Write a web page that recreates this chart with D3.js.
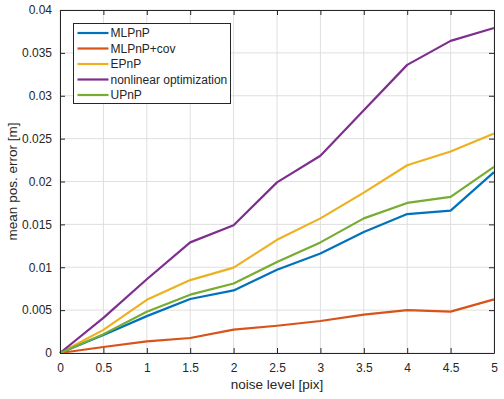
<!DOCTYPE html>
<html>
<head>
<meta charset="utf-8">
<script src="https://cdn.jsdelivr.net/npm/d3@7"></script>
<style>
  body { margin: 0; background: #fff; }
  svg text { font-family: "Liberation Sans", Arial, Helvetica, sans-serif; fill: #262626; }
</style>
</head>
<body>
<svg id="chart" width="504" height="399"></svg>
<script>
const noiseLevels = [0, 0.5, 1, 1.5, 2, 2.5, 3, 3.5, 4, 4.5, 5];
const seriesNames = ['MLPnP', 'MLPnP+cov', 'EPnP', 'nonlinear optimization', 'UPnP'];
const mlpnp = [0, 0.0021, 0.0043, 0.0063, 0.0073, 0.0097, 0.0116, 0.0141, 0.0162, 0.0166, 0.0211];
const mlpnpCov = [0, 0.0007, 0.00136, 0.00175, 0.00272, 0.00318, 0.00373, 0.00447, 0.00501, 0.00482, 0.00626];
const epnp = [0, 0.0027, 0.0062, 0.0085, 0.00995, 0.0132, 0.0157, 0.0187, 0.0219, 0.0235, 0.0256];
const nonlinear = [0, 0.0041, 0.0086, 0.0129, 0.0149, 0.0199, 0.0230, 0.0283, 0.0336, 0.0364, 0.0379];
const upnp = [0, 0.0022, 0.0048, 0.0068, 0.0081, 0.0106, 0.0129, 0.0157, 0.0175, 0.0182, 0.0217];
const xTicks = [0, 0.5, 1, 1.5, 2, 2.5, 3, 3.5, 4, 4.5, 5];
const yTicks = [0, 0.005, 0.01, 0.015, 0.02, 0.025, 0.03, 0.035, 0.04];

const allValues = [mlpnp, mlpnpCov, epnp, nonlinear, upnp];
const colors = ['#0072BD', '#D95319', '#EDB120', '#7E2F8E', '#77AC30'];

const margin = { top: 10, right: 10, bottom: 46, left: 60 };
const width = 504, height = 399;
const svg = d3.select('#chart');

const x = d3.scaleLinear().domain([0, 5]).range([margin.left, width - margin.right]);
const y = d3.scaleLinear().domain([0, 0.04]).range([height - margin.bottom, margin.top]);

// grid
const grid = svg.append('g').attr('stroke', '#dfdfdf').attr('stroke-width', 1);
grid.selectAll('.gx').data(xTicks).join('line')
  .attr('x1', d => x(d)).attr('x2', d => x(d))
  .attr('y1', y(0)).attr('y2', y(0.04));
grid.selectAll('.gy').data(yTicks).join('line')
  .attr('y1', d => y(d)).attr('y2', d => y(d))
  .attr('x1', x(0)).attr('x2', x(5));

// lines
const line = d3.line().x((d, i) => x(noiseLevels[i])).y(d => y(d));
svg.append('g').selectAll('path').data(allValues).join('path')
  .attr('d', d => line(d))
  .attr('fill', 'none')
  .attr('stroke', (d, i) => colors[i])
  .attr('stroke-width', 2.2)
  .attr('stroke-linejoin', 'round');

// axes (MATLAB style, ticks inside, box)
const fmt = d => d3.format('~g')(d);
const axisStyle = g => {
  g.select('.domain').attr('stroke', '#262626');
  g.selectAll('.tick line').attr('stroke', '#262626');
  g.selectAll('.tick text').style('font-size', '12px').attr('fill', '#262626');
};
svg.append('g')
  .attr('transform', `translate(0,${y(0)})`)
  .call(d3.axisBottom(x).tickValues(xTicks).tickFormat(fmt).tickSizeInner(-5).tickSizeOuter(0).tickPadding(10))
  .call(axisStyle);
svg.append('g')
  .attr('transform', `translate(0,${y(0.04)})`)
  .call(d3.axisTop(x).tickValues(xTicks).tickFormat('').tickSizeInner(-5).tickSizeOuter(0))
  .call(axisStyle);
svg.append('g')
  .attr('transform', `translate(${x(0)},0)`)
  .call(d3.axisLeft(y).tickValues(yTicks).tickFormat(fmt).tickSizeInner(-5).tickSizeOuter(0).tickPadding(8))
  .call(axisStyle);
svg.append('g')
  .attr('transform', `translate(${x(5)},0)`)
  .call(d3.axisRight(y).tickValues(yTicks).tickFormat('').tickSizeInner(-5).tickSizeOuter(0))
  .call(axisStyle);

// axis labels
svg.append('text')
  .attr('x', (x(0) + x(5)) / 2).attr('y', 389)
  .attr('text-anchor', 'middle')
  .style('font-size', '13.5px')
  .text('noise level [pix]');
svg.append('text')
  .attr('transform', `translate(17,${(y(0) + y(0.04)) / 2}) rotate(-90)`)
  .attr('text-anchor', 'middle')
  .style('font-size', '13.5px')
  .text('mean pos. error [m]');

// legend
const legend = svg.append('g').attr('transform', 'translate(73.5,23.5)');
legend.append('rect')
  .attr('width', 157).attr('height', 80)
  .attr('fill', '#fff').attr('stroke', '#262626').attr('stroke-width', 1);
const items = legend.selectAll('g').data(seriesNames).join('g')
  .attr('transform', (d, i) => `translate(0,${9.5 + i * 15.5})`);
items.append('line')
  .attr('x1', 4).attr('x2', 35)
  .attr('stroke', (d, i) => colors[i]).attr('stroke-width', 2.2);
items.append('text')
  .attr('x', 37).attr('dy', '0.35em')
  .style('font-size', '12px')
  .text(d => d);
</script>
</body>
</html>
